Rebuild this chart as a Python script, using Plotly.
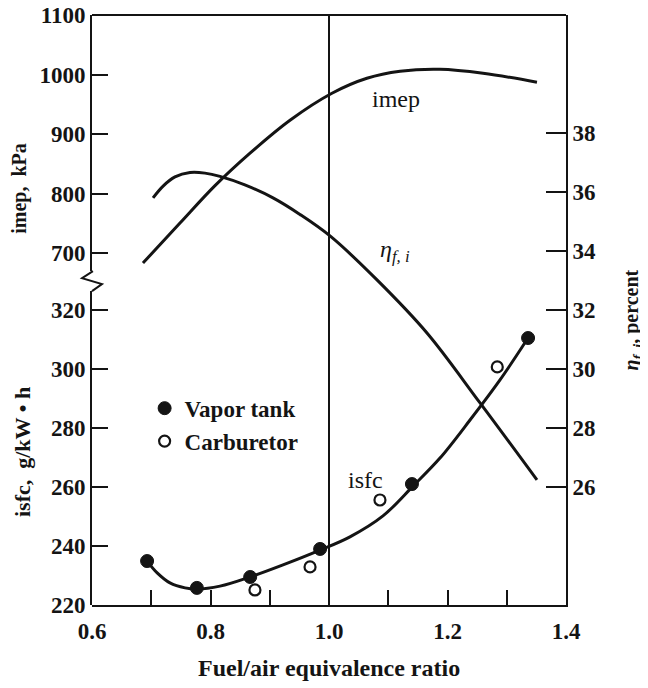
import plotly.graph_objects as go

# ---------------- data ----------------
# imep curve (kPa)
imep_x = [0.686, 0.7485, 0.8076, 0.8667, 0.9342, 1.005, 1.064, 1.120, 1.187, 1.260, 1.351]
imep_vals = [683.2, 750.4, 813.4, 868.1, 923.5, 968.9, 994.1, 1005.9, 1009.2, 1002.5, 987.4]

# indicated fuel conversion efficiency curve (percent)
eta_x = [0.703, 0.720, 0.740, 0.7654, 0.7907, 0.816, 0.858, 0.9055, 0.951, 1.0017,
         1.081, 1.1654, 1.2549, 1.351]
eta_vals = [35.80, 36.20, 36.51, 36.66, 36.64, 36.53, 36.24, 35.80, 35.24, 34.51,
            33.02, 31.22, 28.85, 26.24]

# isfc fitted curve (g/kW.h)
isfc_x = [0.693, 0.710, 0.7316, 0.757, 0.7772, 0.816, 0.8667, 0.9224, 0.9848, 1.0354,
          1.0911, 1.1418, 1.1873, 1.238, 1.2886, 1.3359]
isfc_vals = [234.9, 230.9, 227.5, 225.8, 225.4, 226.4, 229.5, 233.6, 238.6, 243.1,
             250.2, 260.3, 269.8, 282.7, 296.3, 310.5]

# measured isfc points
vapor_x = [0.693, 0.777, 0.867, 0.985, 1.140, 1.336]
vapor_isfc = [234.9, 225.8, 229.5, 239.0, 261.0, 310.5]
carb_x = [0.875, 0.968, 1.086, 1.284]
carb_isfc = [225.1, 232.9, 255.6, 300.7]

# tick labels
x_ticks = [0.6, 0.8, 1.0, 1.2, 1.4]
x_minor_ticks = [0.7, 0.9, 1.1, 1.3]
imep_ticks = [700, 800, 900, 1000, 1100]
isfc_ticks = [220, 240, 260, 280, 300, 320]
eta_ticks = [26, 28, 30, 32, 34, 36, 38]

# ---------------- styling ----------------
INK = "#141414"
SERIF = "Liberation Serif"
tick_font = dict(family=SERIF, size=23, color=INK, weight="bold")
label_font = dict(family=SERIF, size=24, color=INK)

fig = go.Figure()

fig.add_trace(go.Scatter(x=imep_x, y=imep_vals, mode="lines", yaxis="y3",
                         line=dict(color=INK, width=3, shape="spline"), showlegend=False,
                         hoverinfo="skip"))
fig.add_trace(go.Scatter(x=eta_x, y=eta_vals, mode="lines", yaxis="y",
                         line=dict(color=INK, width=3, shape="spline"), showlegend=False,
                         hoverinfo="skip"))
fig.add_trace(go.Scatter(x=isfc_x, y=isfc_vals, mode="lines", yaxis="y2",
                         line=dict(color=INK, width=3, shape="spline"), showlegend=False,
                         hoverinfo="skip"))
fig.add_trace(go.Scatter(x=vapor_x, y=vapor_isfc, mode="markers", yaxis="y2", name="Vapor tank",
                         marker=dict(symbol="circle", size=13, color=INK,
                                     line=dict(color=INK, width=1))))
fig.add_trace(go.Scatter(x=carb_x, y=carb_isfc, mode="markers", yaxis="y2", name="Carburetor",
                         marker=dict(symbol="circle", size=11, color="white",
                                     line=dict(color=INK, width=2.2))))

axis_common = dict(showgrid=False, zeroline=False, showline=True, linecolor=INK, linewidth=2,
                   ticks="inside", tickcolor=INK, tickwidth=2, tickfont=tick_font,
                   automargin=False, ticklabeloverflow="allow")

fig.update_layout(
    template="none",
    width=640, height=680,
    margin=dict(l=84, r=82, t=7, b=83, autoexpand=False),
    paper_bgcolor="white", plot_bgcolor="rgba(0,0,0,0)",
    xaxis=dict(range=[0.6, 1.4], domain=[0, 1], anchor="y", tickvals=x_ticks,
               ticktext=[f"{v:.1f}" for v in x_ticks], ticklen=15, ticklabelstandoff=4,
               minor=dict(tickvals=x_minor_ticks, ticks="inside", ticklen=15, tickwidth=2,
                          tickcolor=INK),
               **axis_common),
    # eta (right axis, full height)
    yaxis=dict(range=[22, 42], domain=[0, 1], anchor="x", side="right", tickvals=eta_ticks,
               ticklen=20, ticklabelstandoff=0, **axis_common),
    # isfc (left, lower part)
    yaxis2=dict(range=[220, 326.4], domain=[0, 0.532], anchor="x", side="left",
                tickvals=isfc_ticks, ticklen=16, ticklabelstandoff=0, **axis_common),
    # imep (left, upper part)
    yaxis3=dict(range=[669.7, 1100.5], domain=[0.566, 1], anchor="x", side="left",
                tickvals=imep_ticks, ticklen=16, ticklabelstandoff=0, **axis_common),
    legend=dict(x=0.111, y=0.37, xanchor="left", yanchor="top", bgcolor="rgba(0,0,0,0)",
                font=dict(family=SERIF, size=23, color=INK, weight="bold"),
                itemwidth=30, tracegroupgap=0),
    showlegend=True,
)

shapes = [
    # top border
    dict(type="line", xref="paper", yref="paper", x0=0, x1=1, y0=1, y1=1,
         line=dict(color=INK, width=2)),
    # vertical line at stoichiometric
    dict(type="line", xref="x", yref="paper", x0=1.0, x1=1.0, y0=0, y1=1,
         line=dict(color=INK, width=2)),
    # axis break symbol on the left axis
    dict(type="path", xref="paper", yref="paper",
         path="M 0.002,0.566 L -0.021,0.554 L 0.021,0.544 L 0,0.532",
         line=dict(color=INK, width=2)),
]
fig.update_layout(shapes=shapes)

annotations = [
    dict(text="Fuel/air equivalence ratio", xref="paper", yref="paper", x=0.5, y=-0.107,
         showarrow=False, font=dict(family=SERIF, size=24, color=INK, weight="bold"),
         xanchor="center", yanchor="middle"),
    dict(text="imep,  kPa", xref="paper", yref="paper", x=-0.152, y=0.707, textangle=-90,
         showarrow=False, font=dict(family=SERIF, size=20, color=INK, weight="bold"),
         xanchor="center", yanchor="middle"),
    dict(text="isfc,  g/kW \u2022 h", xref="paper", yref="paper", x=-0.148, y=0.259,
         textangle=-90, showarrow=False,
         font=dict(family=SERIF, size=22, color=INK, weight="bold"),
         xanchor="center", yanchor="middle"),
    dict(text="<i>\u03b7</i><sub><i>f, i</i></sub>, percent", xref="paper", yref="paper",
         x=1.140, y=0.483, textangle=-90, showarrow=False,
         font=dict(family=SERIF, size=20, color=INK, weight="bold"),
         xanchor="center", yanchor="middle"),
    dict(text="imep", xref="x", yref="y3", x=1.113, y=960, showarrow=False, font=label_font),
    dict(text="<i>\u03b7</i><sub><i>f, i</i></sub>", xref="x", yref="y", x=1.111, y=34.0,
         showarrow=False, font=label_font),
    dict(text="isfc", xref="x", yref="y2", x=1.061, y=262.4, showarrow=False, font=label_font),
]
fig.update_layout(annotations=annotations)

fig.write_html("out.html")
